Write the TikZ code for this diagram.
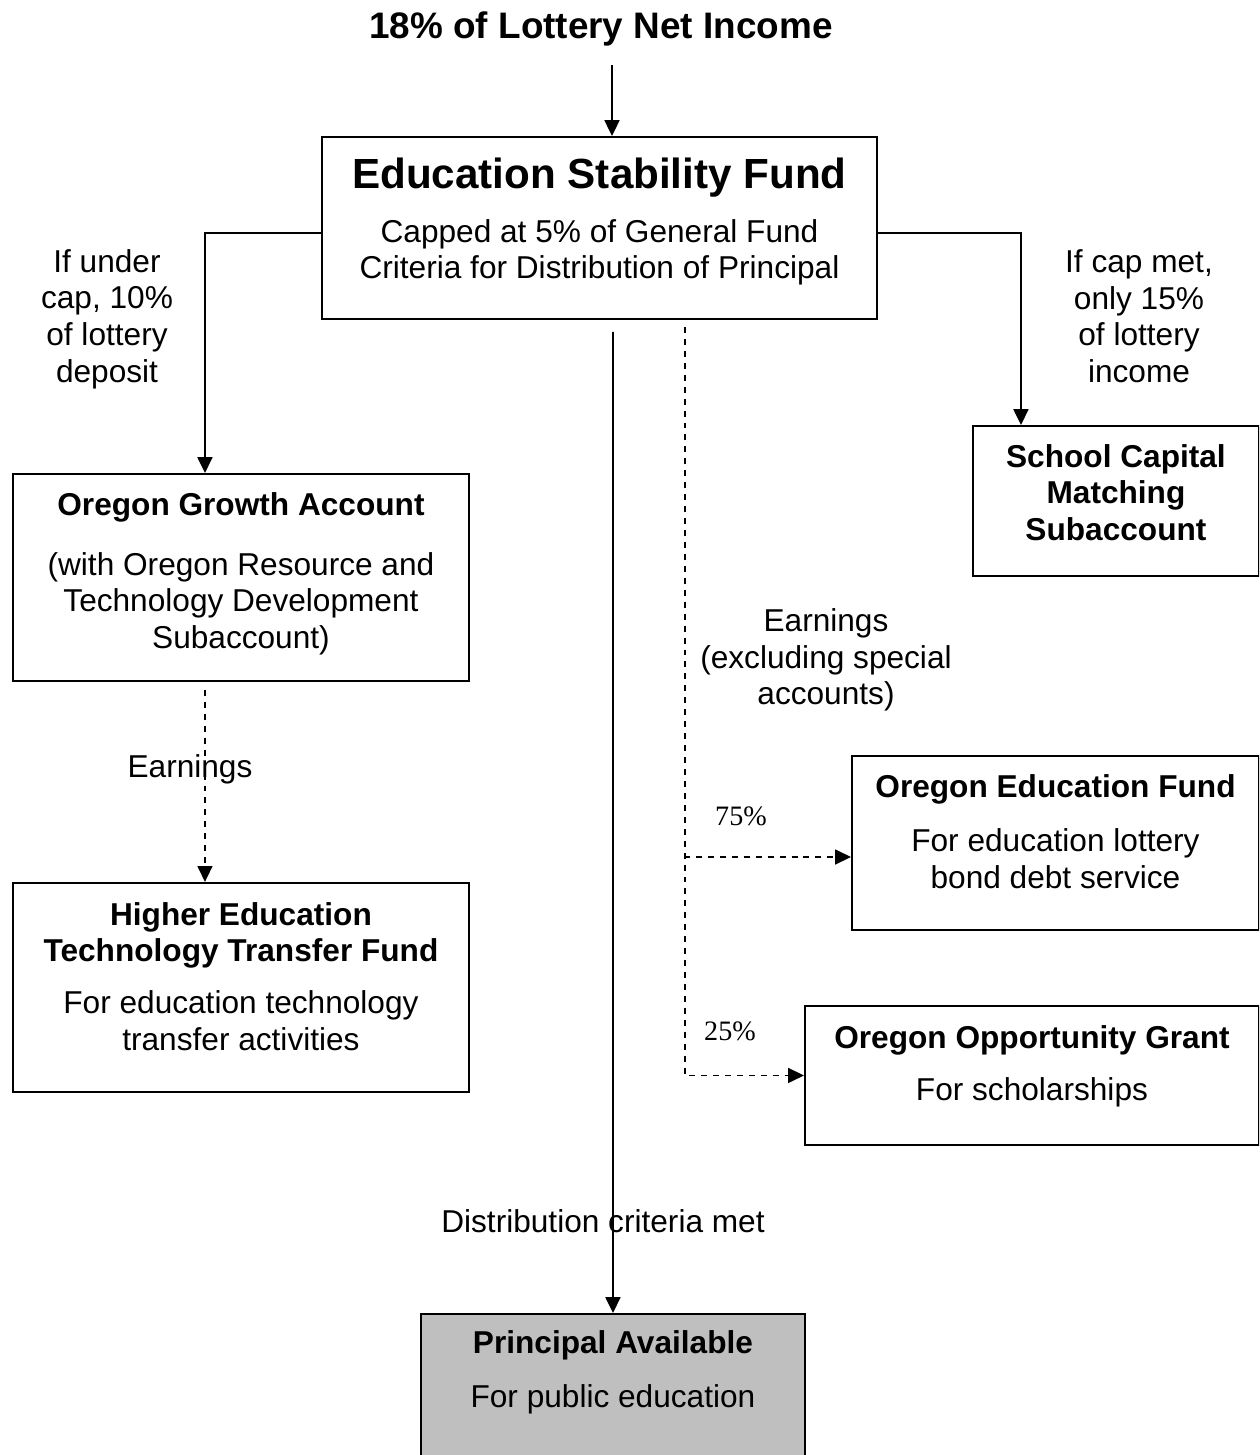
\documentclass[tikz,border=0pt]{standalone}
\usepackage{fontspec}
\setmainfont{Liberation Sans}
\newfontfamily\serifnum{Liberation Serif}
\usepackage{tikz}
\definecolor{d00}{rgb}{0.00, 0.00, 0.00}
\definecolor{d01}{rgb}{0.75, 0.75, 0.75}
\usetikzlibrary{positioning}
\usetikzlibrary{arrows.meta}
\usetikzlibrary{calc}
\newlength{\pxl}
\setlength{\pxl}{0.02cm}
\tikzstyle{Line} = [draw, d00, line width=1.1pt,
    -{Triangle[length=9pt, width=8.5pt]}]
\tikzstyle{Dash} = [draw, d00, line width=.8pt,
    dash pattern=on 3.4pt off 3.4pt, -{Triangle[length=9pt, width=8.5pt]}]
\tikzstyle{fund} = [draw, rectangle, anchor=north west,
    inner sep=0pt, line width=1.1pt, fill=white]
\tikzstyle{note} = [align=center, inner sep=0pt]
\newcommand{\panel}[3]{%
    \begin{minipage}[t][#2\pxl][t]{#1\pxl}\centering #3\end{minipage}}

\begin{document}
\begin{tikzpicture}[x=0.02cm, y=-0.02cm,
    font=\fontsize{18}{20.8}\selectfont]
     \path [use as bounding box, clip] (0,0) rectangle (1259,1455);
     % ><>< =================== ><>< %
     % ><><     Place boxes     ><>< %
     % ><>< =================== ><>< %
     \node [fund] (box00) at (321,136)
        {\panel{555}{182}{\vspace*{11.7pt}%
         {\fontsize{24}{28}\selectfont\bfseries Education Stability Fund\par}
         \vspace{10pt}Capped at 5\% of General Fund\\
         Criteria for Distribution of Principal}};
     \node [fund] (box01) at (12,473)
        {\panel{456}{207}{\vspace*{10.5pt}%
         {\bfseries Oregon Growth Account\par}
         \vspace{13.4pt}(with Oregon Resource and\\
         Technology Development\\ Subaccount)}};
     \node [fund, below=4cm of box01] (box02)
        {\panel{456}{209}{\vspace*{11.1pt}%
         {\bfseries Higher Education\\ Technology Transfer Fund\par}
         \vspace{8.7pt}For education technology\\ transfer activities}};
     \node [fund] (box04) at (972,425)
        {\panel{286}{150}{\vspace*{10.5pt}%
         {\bfseries School Capital\\ Matching\\ Subaccount\par}}};
     \node [fund] (box05) at (851,755)
        {\panel{407}{174}{\vspace*{10.5pt}%
         {\bfseries Oregon Education Fund\par}
         \vspace{10pt}For education lottery\\ bond debt service}};
     \node [fund] (box06) at (804,1005)
        {\panel{454}{139}{\vspace*{11.1pt}%
         {\bfseries Oregon Opportunity Grant\par}
         \vspace{8.7pt}For scholarships}};
     \node [fund, fill=d01] (box07) at (420,1313)
        {\panel{384}{170}{\vspace*{9.4pt}%
         {\bfseries Principal Available\par}
         \vspace{10pt}For public education}};
     % ><>< =================== ><>< %
     % ><><    Place labels     ><>< %
     % ><>< =================== ><>< %
     \node [note, anchor=base, font=\fontsize{21}{24}\selectfont\bfseries]
        (txt00) at (601,38) {18\% of Lottery Net Income};
     \node [note] (txt01) at (107,319)
        {If under\\ cap, 10\%\\ of lottery\\ deposit};
     \node [note] (txt02) at (1139,316)
        {If cap met,\\ only 15\%\\ of lottery\\ income};
     \node [note, anchor=base] (txt03) at (190,777) {Earnings};
     \node [note] (txt04) at (826,660)
        {Earnings\\ (excluding special\\ accounts)};
     \node [note, anchor=base, font=\fontsize{16}{19}\serifnum]
        (txt05) at (741,825) {75\%};
     \node [note, anchor=base, font=\fontsize{16}{19}\serifnum]
        (txt06) at (730,1040) {25\%};
     \node [note, anchor=base] (txt07) at (603,1232)
        {Distribution criteria met};
     % ><>< =================== ><>< %
     % ><><     Draw lines.     ><>< %
     % ><>< =================== ><>< %
     \coordinate (feed) at (612,65);
     \coordinate (tap) at ($(box00.south)+(85.5,7)$);
     \coordinate (split) at (684,857);
     \path [Line] (feed) -- (feed |- box00.north);
     \path [Line] ([yshift=-2.8pt]box00.west) -| ($(box01.north)+(-36,0)$);
     \path [Line] ([yshift=-2.8pt]box00.east) -| ($(box04.north)+(-95,0)$);
     \path [Line] ($(box00.south)+(13.5,12)$) -- (box07.north);
     \path [Dash] ($(box01.south)+(-36,8)$) -- ($(box02.north)+(-36,0)$);
     \path [Dash] (tap) |- (box06.west);
     \path [Dash] (split) -- (split -| box05.west);
\end{tikzpicture}
\end{document}
